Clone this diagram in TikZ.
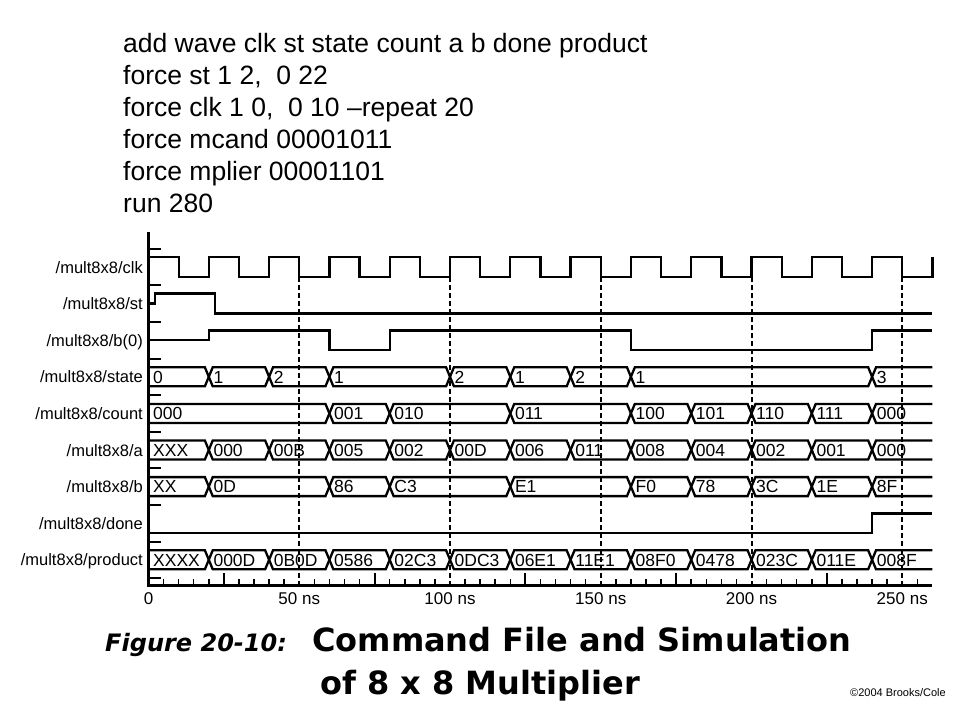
\documentclass[tikz,border=0pt]{standalone}
\usepackage{fontspec}
\setmainfont{Liberation Sans}
\newfontfamily\titlefont{DejaVu Sans}
\begin{document}
\begin{tikzpicture}[x=1pt,y=-1pt]
\tikzset{
 cmd/.style={anchor=base west, inner sep=0pt, font=\fontsize{26.5}{30}\selectfont},
 sig/.style={anchor=base east, inner sep=0pt, font=\fontsize{16.5}{20}\selectfont},
 val/.style={anchor=base west, inner sep=0pt, font=\fontsize{17.5}{19}\selectfont},
 tlab/.style={anchor=base, inner sep=0pt, font=\fontsize{17}{19}\selectfont},
 wave/.style={line width=2.3pt},
 axisline/.style={line width=3pt},
 gridline/.style={line width=2pt, dash pattern=on 5pt off 3pt},
 ttl/.style={anchor=base west, inner sep=0pt, font=\titlefont\bfseries\fontsize{32}{36}\selectfont},
}
\useasboundingbox (0,0) rectangle (960,720);
\fill[white] (0,0) rectangle (960,720);

% command file text
\node[cmd] (c1) at (123,52)  {add wave clk st state count a b done product};
\node[cmd] (c2) at (123,84)  {force st 1 2, \ 0 22};
\node[cmd] (c3) at (123,116) {force clk 1 0, \ 0 10 –repeat 20};
\node[cmd] (c4) at (123,148) {force mcand 00001011};
\node[cmd] (c5) at (123,180) {force mplier 00001101};
\node[cmd] (c6) at (123,212) {run 280};

% signal names
\foreach \i/\nm in {0/clk,1/st,2/b(0),3/state,4/count,5/a,6/b,7/done,8/product}{
  \node[sig] (s\i) at (143,{267+36.6*\i+6}) {/mult8x8/\nm};
}

\newcommand\busrow[4]{%
  \foreach \a/\b/\l in {#2}{%
    \pgfmathsetmacro\da{(\a==0) ? 0 : 1.3}%
    \draw[wave, line join=miter] (\a,#1) -- ({\a+\da},{#1-9.5}) -- ({\b-1.3},{#1-9.5}) -- (\b,#1)
       -- ({\b-1.3},{#1+9.5}) -- ({\a+\da},{#1+9.5}) -- cycle;
    \node[val] at ({\a+1.5},{#1+6.2}) {\l};
  }%
  \draw[wave, line join=miter] (260,{#1-9.5}) -- ({#3+1.3},{#1-9.5}) -- (#3,#1) -- ({#3+1.3},{#1+9.5}) -- (260,{#1+9.5});
  \node[val] at ({#3+1.5},{#1+6.2}) {#4};
}

\begin{scope}[x=3.015pt, xshift=148.5pt]
  % dashed time grid
  \foreach \t in {50,100,150,200,250}{
    \draw[gridline] (\t,277) -- (\t,585);
  }
  % clk
  \draw[wave, line join=miter] (0,257) \foreach \k in {0,...,12}{
     -- ({20*\k+10},257) -- ({20*\k+10},277) -- ({20*\k+20},277) -- ({20*\k+20},257) };
  % st
  \draw[wave, line join=miter] (0,303.6) -- (2.2,303.6) -- (2.2,293.6) -- (22,293.6) -- (22,313.6) -- (260,313.6);
  % b(0)
  \draw[wave, line join=miter] (0,340.2) -- (20,340.2) -- (20,330.5) -- (60,330.5) -- (60,349.9)
     -- (80,349.9) -- (80,330.5) -- (160,330.5) -- (160,349.9) -- (240,349.9) -- (240,330.5) -- (260,330.5);
  % state
  \busrow{376.8}{0/20/0,20/40/1,40/60/2,60/100/1,100/120/2,120/140/1,140/160/2,160/240/1}{240}{3}
  % count
  \busrow{413.4}{0/60/000,60/80/001,80/120/010,120/160/011,160/180/100,180/200/101,200/220/110,220/240/111}{240}{000}
  % a
  \busrow{450}{0/20/XXX,20/40/000,40/60/00B,60/80/005,80/100/002,100/120/00D,120/140/006,140/160/011,160/180/008,180/200/004,200/220/002,220/240/001}{240}{000}
  % b
  \busrow{486.6}{0/20/XX,20/60/0D,60/80/86,80/120/C3,120/160/E1,160/180/F0,180/200/78,200/220/3C,220/240/1E}{240}{8F}
  % done
  \draw[wave, line join=miter] (0,533) -- (240,533) -- (240,513.5) -- (260,513.5);
  % product
  \busrow{559.8}{0/20/XXXX,20/40/000D,40/60/0B0D,60/80/0586,80/100/02C3,100/120/0DC3,120/140/06E1,140/160/11E1,160/180/08F0,180/200/0478,200/220/023C,220/240/011E}{240}{008F}

  % left ticks
  \foreach \i in {0,...,9}{
    \draw[line width=2pt] (0,{248.7+36.6*\i}) -- (4.3,{248.7+36.6*\i});
  }
  % bottom ticks
  \foreach \t in {5,10,15,20,30,35,40,45,55,60,65,70,80,85,90,95,105,110,115,120,130,135,140,145,155,160,165,170,180,185,190,195,205,210,215,220,230,235,240,245,255}{
    \draw[line width=1.5pt] (\t,585) -- (\t,579);
  }
  \foreach \t in {25,75,125,175,225}{
    \draw[line width=2pt] (\t,585) -- (\t,573);
  }
  % axes
  \draw[axisline] (0,232) -- (0,586.5);
  \draw[axisline] (-0.5,585) -- (260,585);
  % time labels
  \node[tlab] (t0) at (0,604) {0};
  \node[tlab] (t50) at (50,604) {50 ns};
  \node[tlab] (t100) at (100,604) {100 ns};
  \node[tlab] (t150) at (150,604) {150 ns};
  \node[tlab] (t200) at (200,604) {200 ns};
  \node[tlab] (t250) at (250,604) {250 ns};
\end{scope}

% caption
\node[anchor=base west, inner sep=0pt, font=\titlefont\bfseries\itshape\fontsize{24}{28}\selectfont] (fig) at (105,651) {Figure 20-10:};
\node[ttl] (title1) at (312,651) {Command File and Simulation};
\node[ttl] (title2) at (320,694) {of 8 x 8 Multiplier};
\node[anchor=base west, inner sep=0pt, font=\fontsize{11}{13}\selectfont] (copy) at (850,696) {©2004 Brooks/Cole};
\end{tikzpicture}
\end{document}
